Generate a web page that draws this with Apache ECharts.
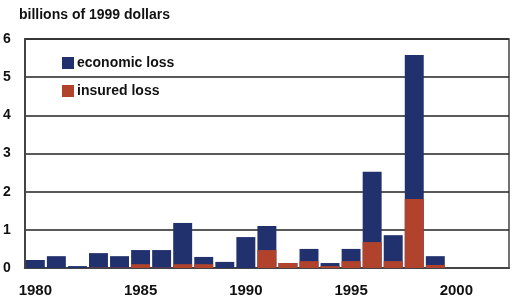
<!DOCTYPE html>
<html>
<head>
<meta charset="utf-8">
<script src="https://cdn.jsdelivr.net/npm/echarts@6/dist/echarts.min.js"></script>
<style>
  html, body { margin: 0; padding: 0; background: #fff; }
  #chart { width: 513px; height: 298px; }
</style>
</head>
<body>
<div id="chart"></div>
<script>
const years = ['1980','1981','1982','1983','1984','1985','1986','1987','1988','1989','1990','1991',
  '1992','1993','1994','1995','1996','1997','1998','1999','2000','2001','2002'];
// economic loss (total bar height), billions of 1999 dollars
const economicLoss = [0.21, 0.31, 0.05, 0.39, 0.31, 0.47, 0.47, 1.18, 0.29, 0.16, 0.81, 1.10,
  0.13, 0.50, 0.13, 0.50, 2.52, 0.86, 5.58, 0.31, null, null, null];
// insured loss (drawn over the lower part of each bar)
const insuredLoss = [0, 0, 0, 0.01, 0.01, 0.10, 0.01, 0.10, 0.10, 0, 0, 0.47,
  0.13, 0.18, 0.05, 0.18, 0.68, 0.18, 1.81, 0.08, null, null, null];
const yTicks = [0, 1, 2, 3, 4, 5, 6];

const font = '"Liberation Sans", Arial, sans-serif';
const chart = echarts.init(document.getElementById('chart'), null, { renderer: 'canvas' });

chart.setOption({
  animation: false,
  title: {
    text: 'billions of 1999 dollars',
    left: 14, top: 3,
    textStyle: { fontFamily: font, fontWeight: 'bold', fontSize: 14, color: '#111' }
  },
  legend: {
    orient: 'vertical',
    left: 57, top: 51,
    itemWidth: 12, itemHeight: 12, itemGap: 14,
    icon: 'rect',
    textStyle: { fontFamily: font, fontWeight: 'bold', fontSize: 14, color: '#111', padding: [0, 0, 0, -2] },
    data: ['economic loss', 'insured loss']
  },
  grid: {
    left: 22, right: 4, top: 39, bottom: 30,
    show: true, borderColor: '#444', borderWidth: 1.5
  },
  xAxis: {
    type: 'category',
    data: years,
    axisLine: { lineStyle: { color: '#444', width: 2 } },
    axisTick: { show: false },
    axisLabel: {
      interval: 4, margin: 15,
      fontFamily: font, fontWeight: 'bold', fontSize: 15, color: '#111'
    }
  },
  yAxis: {
    type: 'value',
    min: yTicks[0], max: yTicks[yTicks.length - 1], interval: 1,
    axisLine: { show: true, lineStyle: { color: '#444', width: 2 } },
    axisTick: { show: false },
    splitLine: { lineStyle: { color: '#222', width: 1.5 } },
    axisLabel: {
      align: 'right', margin: 14,
      fontFamily: font, fontWeight: 'bold', fontSize: 14, color: '#111'
    }
  },
  series: [
    {
      name: 'economic loss',
      type: 'bar',
      data: economicLoss,
      barCategoryGap: '10%',
      barGap: '-100%',
      itemStyle: { color: '#21316d' }
    },
    {
      name: 'insured loss',
      type: 'bar',
      data: insuredLoss,
      barGap: '-100%',
      itemStyle: { color: '#b1432d' }
    }
  ]
});
</script>
</body>
</html>
